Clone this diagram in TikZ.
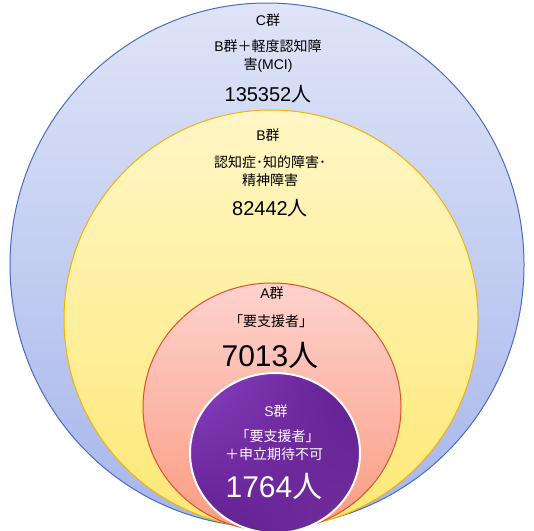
\documentclass[tikz,border=0pt]{standalone}
\usepackage{fontspec}
\usetikzlibrary{shadings}
\setmainfont{Noto Sans CJK JP}
\newfontfamily\lat{Liberation Sans}
\definecolor{cTop}{HTML}{DFE4F7}
\definecolor{cBot}{HTML}{A6B6EC}
\definecolor{cLine}{HTML}{4A6CC0}
\definecolor{bTop}{HTML}{FFF6C6}
\definecolor{bBot}{HTML}{FDE875}
\definecolor{bLine}{HTML}{F2B300}
\definecolor{aTop}{HTML}{FDD2CE}
\definecolor{aBot}{HTML}{FB9C80}
\definecolor{aLine}{HTML}{E0502A}
\definecolor{sA}{HTML}{8C42C2}
\definecolor{sB}{HTML}{5E1C8E}
\definecolor{sC}{HTML}{74309E}
\tikzset{
  lbl/.style={align=center, inner sep=0pt, font=\fontsize{14}{18}\selectfont},
  num/.style={inner sep=0pt, font=\fontsize{20}{24}\selectfont},
  big/.style={inner sep=0pt, font=\fontsize{30}{34}\selectfont},
}
\begin{document}
\begin{tikzpicture}[x=1pt,y=-1pt]
\useasboundingbox (0,0) rectangle (534,530);
\begin{scope}
\clip (0,0) rectangle (534,530);
% C
\shade[top color=cTop, bottom color=cBot] (267,265) ellipse [x radius=257pt, y radius=262pt];
\draw[cLine, line width=1pt] (267,265) ellipse [x radius=257pt, y radius=262pt];
% B
\shade[top color=bTop, bottom color=bBot] (271,319) ellipse [x radius=207pt, y radius=209pt];
\draw[bLine, line width=1pt] (271,319) ellipse [x radius=207pt, y radius=209pt];
% A
\shade[top color=aTop, bottom color=aBot] (272,407) ellipse [x radius=129pt, y radius=124pt];
\draw[aLine, line width=1pt] (272,407) ellipse [x radius=129pt, y radius=124pt];
% S
\shade[upper left=sA, upper right=sB, lower left=sB, lower right=sC] (275,453) ellipse [x radius=85pt, y radius=80pt];
\draw[white, line width=2pt] (275,453) ellipse [x radius=85pt, y radius=80pt];
\end{scope}
% texts C
\node[lbl] (c1) at (268,20) {{\lat C}群};
\node[lbl] (c2) at (268,56) {{\lat B}群＋軽度認知障\\害{\lat (MCI)}};
\node[num] (c3) at (268,94) {{\lat 135352}人};
% B
\node[lbl] (b1) at (268,135) {{\lat B}群};
\node[lbl] (b2) at (270,171) {認知症･知的障害･\\精神障害};
\node[num] (b3) at (270,208) {{\lat 82442}人};
% A
\node[lbl] (a1) at (272,293) {{\lat A}群};
\node[lbl] (a2) at (271,321) {「要支援者」};
\node[big] (a3) at (270,355) {{\lat 7013}人};
% S
\node[lbl, text=white] (s1) at (276,411) {{\lat S}群};
\node[lbl, text=white] (s2) at (274,445) {\hspace{0.5em}「要支援者」\\＋申立期待不可};
\node[big, text=white] (s3) at (274,486) {{\lat 1764}人};
\end{tikzpicture}
\end{document}
